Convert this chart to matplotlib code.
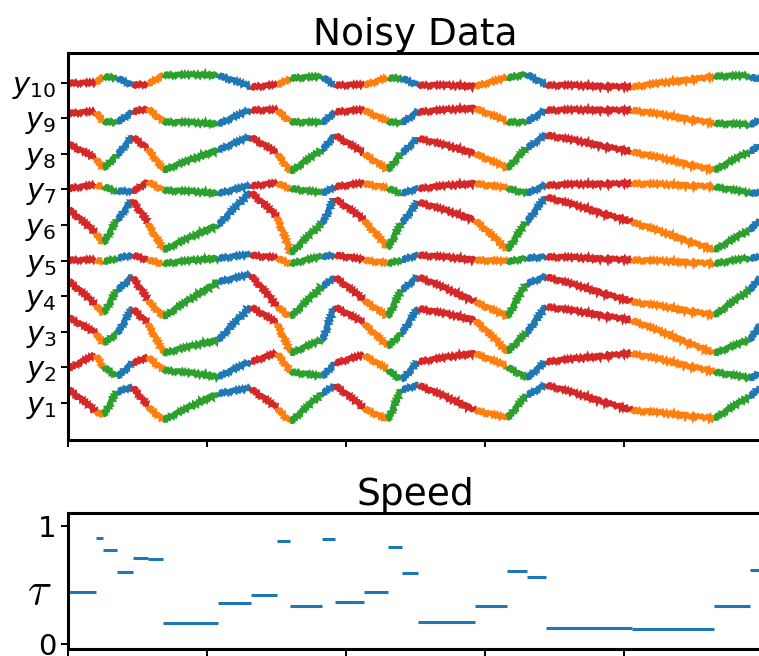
import matplotlib
matplotlib.use("Agg")
import matplotlib.pyplot as plt

# Segment boundaries (time steps) and the discrete state active in each segment
breaks = [0, 40, 51, 71, 93, 115, 137, 216, 263, 301, 320, 366, 384, 426,
          460, 480, 504, 586, 632, 660, 688, 811, 930, 981, 1000]
states = [0, 1, 2, 3, 0, 1, 2, 3, 0, 1, 2, 3,
          0, 1, 2, 3, 0, 1, 2, 3, 0, 1, 2, 3]
# Speed (tau) of each segment
tau = [0.44, 0.90, 0.80, 0.61, 0.73, 0.72, 0.18, 0.35, 0.42, 0.87, 0.32, 0.89,
       0.36, 0.44, 0.82, 0.60, 0.19, 0.32, 0.62, 0.57, 0.14, 0.13, 0.32, 0.63]

# Observed channels at each segment boundary (offset from their own baseline)
y1 = [0.41, -0.24, -0.34, 0.32, 0.46, -0.10, -0.48, 0.27, 0.41, -0.15, -0.53, 0.27,
      0.51, -0.15, -0.48, 0.37, 0.51, -0.20, -0.43, 0.22, 0.51, -0.20, -0.43, 0.18, 0.51]
y2 = [-0.03, 0.35, 0.02, -0.26, 0.12, 0.30, -0.07, -0.26, 0.16, 0.40, -0.12, -0.26,
      0.12, 0.35, -0.07, -0.35, 0.16, 0.40, 0.02, -0.30, 0.16, 0.40, -0.12, -0.31, -0.12]
y3 = [0.42, -0.04, -0.32, -0.04, 0.66, 0.24, -0.60, -0.23, 0.71, 0.24, -0.60, -0.23,
      0.71, 0.24, -0.42, -0.04, 0.66, 0.33, -0.56, -0.03, 0.71, 0.33, -0.60, -0.23, 0.33]
y4 = [0.46, -0.25, -0.48, 0.17, 0.55, -0.11, -0.58, 0.41, 0.60, -0.29, -0.58, 0.27,
      0.55, -0.11, -0.58, 0.17, 0.55, -0.15, -0.58, 0.36, 0.55, -0.15, -0.53, 0.17, 0.64]
y5 = [0.02, 0.02, -0.03, 0.07, 0.16, 0.02, -0.08, 0.07, 0.16, 0.07, -0.08, 0.11,
      0.16, 0.02, -0.08, 0.02, 0.16, 0.02, -0.03, 0.07, 0.11, 0.02, -0.08, 0.07, 0.11]
y6 = [0.47, -0.23, -0.51, 0.14, 0.70, 0.05, -0.70, 0.00, 0.93, 0.23, -0.79, 0.05,
      0.75, 0.14, -0.65, 0.05, 0.65, 0.14, -0.70, 0.09, 0.79, 0.09, -0.70, -0.14, 0.23]
y7 = [0.03, 0.12, 0.08, -0.06, -0.06, 0.22, -0.02, -0.11, 0.10, 0.17, 0.03, -0.11,
      0.08, 0.17, 0.03, -0.11, 0.03, 0.17, 0.03, -0.11, 0.12, 0.17, 0.08, -0.11, -0.11]
y8 = [0.29, -0.13, -0.41, -0.03, 0.48, 0.15, -0.46, 0.11, 0.48, 0.01, -0.50, 0.11,
      0.53, 0.01, -0.46, 0.01, 0.44, 0.01, -0.41, 0.16, 0.53, 0.06, -0.46, 0.06, 0.29]
y9 = [0.14, 0.18, -0.10, -0.11, 0.18, 0.28, -0.10, -0.16, 0.23, 0.23, -0.10, -0.13,
      0.18, 0.23, -0.10, -0.13, 0.18, 0.28, -0.10, -0.10, 0.23, 0.23, -0.14, -0.19, 0.00]
y10 = [0.00, 0.00, 0.17, 0.13, -0.07, -0.04, 0.21, 0.21, -0.12, -0.07, 0.13, 0.16,
       -0.07, -0.07, 0.13, 0.13, -0.07, -0.10, 0.13, 0.24, -0.07, -0.12, 0.17, 0.17, 0.05]
channels = [y1, y2, y3, y4, y5, y6, y7, y8, y9, y10]
channel_labels = [f"$y_{{{i}}}$" for i in range(1, 11)]

state_colors = ["#d62728", "#ff7f0e", "#2ca02c", "#1f77b4"]

W, H = 759, 656
fig = plt.figure(figsize=(W / 100, H / 100), dpi=100)
ax1 = fig.add_axes([68 / W, 1 - 440 / H, 695 / W, 387 / H])
ax2 = fig.add_axes([68 / W, 1 - 649 / H, 695 / W, 136 / H])

# Stacked channels, each segment coloured by its discrete state;
# a jittery stroke renders the measurement noise
for i, ch in enumerate(channels):
    base = i + 1
    for k, s in enumerate(states):
        xs = [breaks[k], breaks[k + 1]]
        ys = [base + ch[k], base + ch[k + 1]]
        ln, = ax1.plot(xs, ys, color=state_colors[s], lw=3.2,
                       solid_capstyle="butt", solid_joinstyle="miter")
        ln.set_sketch_params(scale=1.5, length=4.0, randomness=2)

ax1.set_xlim(0, 1000)
ax1.set_ylim(-0.04, 10.83)
ax1.set_yticks(range(1, 11))
ax1.set_yticklabels(channel_labels)
ax1.set_xticks(range(0, 1001, 200))
ax1.set_xticklabels([])
ax1.set_title("Noisy Data", fontsize=27, pad=3.5)

# Speed of each segment
ax2.hlines(tau, breaks[:-1], breaks[1:], color="#1f77b4", lw=2.2)
ax2.set_xlim(0, 1000)
ax2.set_ylim(-0.04, 1.11)
ax2.set_yticks([0, 1])
ax2.set_xticks(range(0, 1001, 200))
ax2.set_xticklabels([])
ax2.set_ylabel(r"$\tau$", fontsize=32, rotation=0, ha="center", va="center",
               math_fontfamily="cm")
ax2.yaxis.set_label_coords(-0.041, 0.42)
ax2.set_title("Speed", fontsize=27, pad=0.5)

for ax in (ax1, ax2):
    for sp in ax.spines.values():
        sp.set_linewidth(2.2)
    ax.tick_params(axis="both", length=5, width=1.4, labelsize=21, pad=3)

fig.savefig("out.png", dpi=100)
